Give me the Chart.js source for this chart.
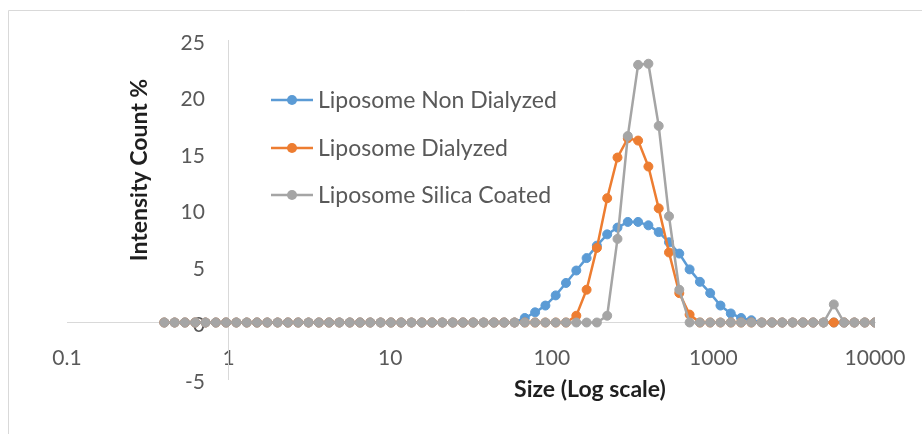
<!DOCTYPE html>
<html lang="en">
<head>
<meta charset="UTF-8">
<title>Liposome Size Distribution</title>
<script src="https://cdn.jsdelivr.net/npm/chart.js"></script>
<style>
  html, body { margin: 0; padding: 0; background: #fff; }
  #wrap { width: 922px; height: 434px; position: relative; }
</style>
</head>
<body>
<div id="wrap"><canvas id="sizeChart"></canvas></div>

<script>
// DLS size bins (nm)
const sizes = [
  0.4, 0.4632, 0.5365, 0.6213, 0.7195, 0.8332, 0.9649, 1.117, 1.294, 1.499,
  1.736, 2.01, 2.328, 2.696, 3.122, 3.615, 4.187, 4.849, 5.615, 6.503,
  7.531, 8.721, 10.1, 11.7, 13.54, 15.69, 18.17, 21.04, 24.36, 28.21,
  32.67, 37.84, 43.82, 50.75, 58.77, 68.06, 78.82, 91.28, 105.7, 122.4,
  141.8, 164.2, 190.1, 220.2, 255, 295.3, 342, 396.1, 458.7, 531.2,
  615.1, 712.4, 825, 955.4, 1106, 1281, 1484, 1718, 1990, 2305,
  2669, 3091, 3580, 4145, 4801, 5560, 6439, 7456, 8635, 10000
];

// intensity (%) per bin
const nonDialyzed = [
  0, 0, 0, 0, 0, 0, 0, 0, 0, 0,
  0, 0, 0, 0, 0, 0, 0, 0, 0, 0,
  0, 0, 0, 0, 0, 0, 0, 0, 0, 0,
  0, 0, 0, 0, 0, 0.4, 0.9, 1.5, 2.4, 3.5,
  4.6, 5.7, 6.8, 7.8, 8.4, 8.9, 8.9, 8.6, 8.0, 7.1,
  6.1, 4.7, 3.6, 2.6, 1.5, 0.8, 0.4, 0.2, 0, 0,
  0, 0, 0, 0, 0, 0, 0, 0, 0, 0
];
const dialyzed = [
  0, 0, 0, 0, 0, 0, 0, 0, 0, 0,
  0, 0, 0, 0, 0, 0, 0, 0, 0, 0,
  0, 0, 0, 0, 0, 0, 0, 0, 0, 0,
  0, 0, 0, 0, 0, 0, 0, 0, 0, 0,
  0.6, 2.9, 6.6, 11.0, 14.6, 16.3, 16.1, 13.8, 10.1, 6.2,
  2.6, 0.7, 0, 0, 0, 0, 0, 0, 0, 0,
  0, 0, 0, 0, 0, 0, 0, 0, 0, 0
];
const silicaCoated = [
  0, 0, 0, 0, 0, 0, 0, 0, 0, 0,
  0, 0, 0, 0, 0, 0, 0, 0, 0, 0,
  0, 0, 0, 0, 0, 0, 0, 0, 0, 0,
  0, 0, 0, 0, 0, 0, 0, 0, 0, 0,
  0, 0, 0, 0.6, 7.4, 16.5, 22.8, 22.9, 17.4, 9.4,
  2.9, 0, 0, 0, 0, 0, 0, 0, 0, 0,
  0, 0, 0, 0, 0, 1.6, 0, 0, 0, 0
];

const seriesNames = ['Liposome Non Dialyzed', 'Liposome Dialyzed', 'Liposome Silica Coated'];
const xTicks = [0.1, 1, 10, 100, 1000, 10000];

const colors = ['#5B9BD5', '#ED7D31', '#A5A5A5'];
const FONT = 'Lato, "Open Sans", sans-serif';

function makeSet(name, values, color, order) {
  return {
    label: name,
    data: sizes.map((s, i) => ({x: s, y: values[i]})),
    yAxisID: 'y',
    borderColor: color,
    backgroundColor: color,
    borderWidth: 2.5,
    pointRadius: 4.5,
    pointBorderWidth: 1,
    pointBorderColor: color,
    pointBackgroundColor: color,
    tension: 0,
    order: order
  };
}

// frame, legend and axis titles
const decorations = {
  id: 'decorations',
  beforeDraw(chart) {
    const ctx = chart.ctx;
    ctx.save();
    ctx.strokeStyle = '#d9d9d9';
    ctx.lineWidth = 1;
    ctx.beginPath();
    ctx.moveTo(8.5, 434);
    ctx.lineTo(8.5, 10.5);
    ctx.lineTo(922, 10.5);
    ctx.stroke();
    ctx.restore();
  },
  afterDraw(chart) {
    const ctx = chart.ctx;
    ctx.save();
    // legend
    const rows = [100, 148, 195];
    chart.data.datasets.forEach((ds, i) => {
      const y = rows[i];
      ctx.strokeStyle = ds.borderColor;
      ctx.lineWidth = 2.5;
      ctx.beginPath();
      ctx.moveTo(271, y);
      ctx.lineTo(313, y);
      ctx.stroke();
      ctx.fillStyle = ds.borderColor;
      ctx.beginPath();
      ctx.arc(292, y, 5, 0, Math.PI * 2);
      ctx.fill();
      ctx.fillStyle = '#595959';
      ctx.font = '23px ' + FONT;
      ctx.textAlign = 'left';
      ctx.textBaseline = 'middle';
      ctx.fillText(ds.label, 318, y + 1);
    });
    // axis titles
    ctx.fillStyle = '#1f1f1f';
    ctx.font = 'bold 23px ' + FONT;
    ctx.textAlign = 'center';
    ctx.textBaseline = 'middle';
    ctx.fillText('Size (Log scale)', 590, 390);
    ctx.translate(140, 170);
    ctx.rotate(-Math.PI / 2);
    ctx.fillText('Intensity Count %', 0, 0);
    ctx.restore();
  }
};

const tickFont = { family: FONT, size: 21 };

new Chart(document.getElementById('sizeChart'), {
  type: 'line',
  data: {
    datasets: [
      makeSet(seriesNames[0], nonDialyzed, colors[0], 3),
      makeSet(seriesNames[1], dialyzed, colors[1], 2),
      makeSet(seriesNames[2], silicaCoated, colors[2], 1)
    ]
  },
  options: {
    responsive: true,
    maintainAspectRatio: false,
    animation: false,
    layout: { padding: { left: 67, right: 47, top: 40, bottom: 55 } },
    scales: {
      x: {
        type: 'logarithmic',
        min: 0.1,
        max: 10000,
        position: { y: 0 },
        grid: { display: false, drawTicks: false },
        border: { display: true, color: '#d9d9d9', width: 1 },
        afterBuildTicks: (scale) => { scale.ticks = xTicks.map(v => ({value: v})); },
        afterFit: (scale) => { scale.height = 0; scale.paddingLeft = 0; scale.paddingRight = 0; },
        ticks: {
          autoSkip: false,
          maxRotation: 0,
          padding: 23,
          color: '#595959',
          font: tickFont,
          callback: (v) => String(v)
        }
      },
      // vertical axis line, crossing at size 1
      y: {
        min: -5,
        max: 25,
        position: { x: 1 },
        grid: { display: false, drawTicks: false },
        border: { display: true, color: '#d9d9d9', width: 1 },
        afterFit: (scale) => { scale.width = 0; scale.paddingTop = 0; scale.paddingBottom = 0; },
        ticks: { display: false, stepSize: 5 }
      },
      // tick labels for the vertical axis, set a little left of the line
      yLabels: {
        min: -5,
        max: 25,
        position: { x: 0.714 },
        grid: { display: false, drawTicks: false },
        border: { display: false },
        afterFit: (scale) => { scale.width = 0; scale.paddingTop = 0; scale.paddingBottom = 0; },
        ticks: {
          stepSize: 5,
          labelOffset: 3,
          color: '#595959',
          font: tickFont
        }
      }
    },
    plugins: {
      legend: { display: false },
      tooltip: { enabled: false }
    }
  },
  plugins: [decorations]
});
</script>
</body>
</html>
